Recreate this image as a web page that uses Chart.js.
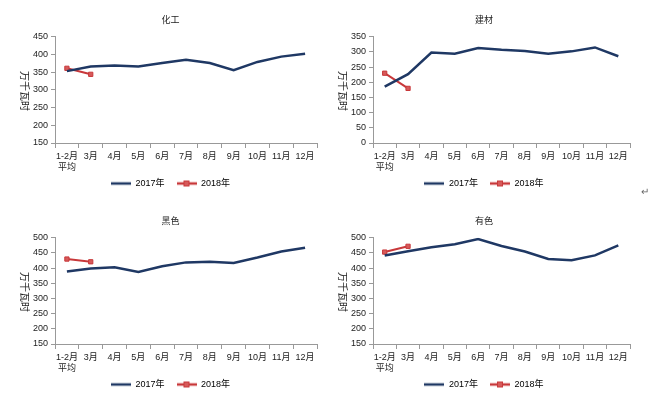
<!DOCTYPE html>
<html><head><meta charset="utf-8">
<script src="https://cdn.jsdelivr.net/npm/chart.js@4.4.1/dist/chart.umd.min.js"></script>
<style>
html,body{margin:0;padding:0;background:#fff;width:655px;height:398px;overflow:hidden;}
.box{position:absolute;width:330px;height:198px;}
.ret{position:absolute;left:641px;top:183px;font:10px "Noto Sans CJK SC",sans-serif;color:#666;}
</style></head>
<body>
<div class="box" style="left:0;top:0"><canvas id="c1"></canvas></div>
<div class="box" style="left:318px;top:0"><canvas id="c2"></canvas></div>
<div class="box" style="left:0;top:201px"><canvas id="c3"></canvas></div>
<div class="box" style="left:318px;top:201px"><canvas id="c4"></canvas></div>
<div class="ret">↵</div>
<script>
const categories = [["1-2月","平均"],"3月","4月","5月","6月","7月","8月","9月","10月","11月","12月"];
const seriesNames = ["2017年","2018年"];
const yAxisTitle = "万千瓦时";
const chartTitles = ["化工","建材","黑色","有色"];

const chem2017 = [353,366,369,366,376,385,376,356,379,394,402];
const chem2018 = [361,344];
const build2017 = [186,227,298,294,313,307,303,294,302,315,286];
const build2018 = [230,180];
const ferrous2017 = [389,399,403,387,406,419,421,417,435,455,467];
const ferrous2018 = [430,421];
const nonferrous2017 = [442,456,469,479,496,473,455,430,426,442,475];
const nonferrous2018 = [453,472];

const yRanges = [[150,450],[0,350],[150,500],[150,500]];

const NAVY = "#1F3864";
const RED = "#C8383A";
const FONT = '"Liberation Sans","Noto Sans CJK SC",sans-serif';
Chart.defaults.font.family = FONT;
Chart.defaults.font.size = 9;
Chart.defaults.color = "#222";

function legendImg(withMarker, color){
  const c = document.createElement('canvas');
  c.width = 20; c.height = 8;
  const g = c.getContext('2d');
  g.strokeStyle = color; g.lineWidth = 2.5;
  g.beginPath(); g.moveTo(0,4); g.lineTo(20,4); g.stroke();
  if(withMarker){ g.fillStyle = "#D65A5A"; g.strokeStyle = color; g.lineWidth=1; g.fillRect(7,1,6,6); g.strokeRect(7.5,1.5,5,5); }
  return c;
}
const img2017 = legendImg(false, NAVY);
const img2018 = legendImg(true, RED);

const yTitlePlugin = {
  id:'yTitle',
  afterDraw(chart){
    const g = chart.ctx, a = chart.chartArea;
    g.save();
    g.translate(25, (a.top+a.bottom)/2 + 1);
    g.rotate(Math.PI/2);
    g.font = '10px "Noto Sans CJK SC",sans-serif';
    g.fillStyle = "#222";
    g.textAlign = 'center'; g.textBaseline = 'middle';
    g.fillText(yAxisTitle, 0, 0);
    g.restore();
  }
};

function makeChart(id, title, d2017, d2018, yr, leftPad, rightPad){
  new Chart(document.getElementById(id), {
    type:'line',
    data:{
      labels:categories,
      datasets:[
        {label:seriesNames[0], data:d2017, borderColor:NAVY, backgroundColor:NAVY, borderWidth:2.5, pointRadius:0, tension:0},
        {label:seriesNames[1], data:d2018, borderColor:RED, backgroundColor:"#D65A5A", borderWidth:2, pointStyle:'rect', pointRadius:3, pointBorderWidth:1, tension:0}
      ]
    },
    options:{
      responsive:true, maintainAspectRatio:false, animation:false,
      layout:{padding:{left:leftPad,right:rightPad,top:0,bottom:0}},
      plugins:{
        title:{display:true, text:title, font:{size:9, family:'"Noto Sans CJK SC",sans-serif', weight:'normal'}, color:"#222", padding:{top:14,bottom:12}},
        legend:{position:'bottom', labels:{usePointStyle:true, pointStyleWidth:20, padding:12, font:{size:9},
          generateLabels(chart){
            return chart.data.datasets.map((ds,i)=>({text:ds.label, pointStyle:i?img2018:img2017, datasetIndex:i, hidden:false, lineWidth:0, strokeStyle:'transparent', fillStyle:'transparent'}));
          }}},
        tooltip:{enabled:false}
      },
      scales:{
        x:{offset:true,
          grid:{display:true, drawOnChartArea:false, offset:true, tickLength:5, color:"#999"},
          border:{color:"#999"},
          ticks:{maxRotation:0, autoSkip:false, padding:3, font:{size:9}},
          afterFit(s){ s.height = 24; s._computeLabelArea = function(){ return undefined; }; }
        },
        y:{min:yr[0], max:yr[1],
          grid:{display:true, drawOnChartArea:false, tickLength:4, color:"#999"},
          border:{color:"#999"},
          ticks:{stepSize:50, padding:3, font:{size:9}},
          afterFit(s){ s.width = 55 - leftPad; }
        }
      }
    },
    plugins:[yTitlePlugin]
  });
}
makeChart('c1', chartTitles[0], chem2017, chem2018, yRanges[0], 24, 13);
makeChart('c2', chartTitles[1], build2017, build2018, yRanges[1], 20, 18);
makeChart('c3', chartTitles[2], ferrous2017, ferrous2018, yRanges[2], 24, 13);
makeChart('c4', chartTitles[3], nonferrous2017, nonferrous2018, yRanges[3], 20, 18);
</script>
</body></html>
